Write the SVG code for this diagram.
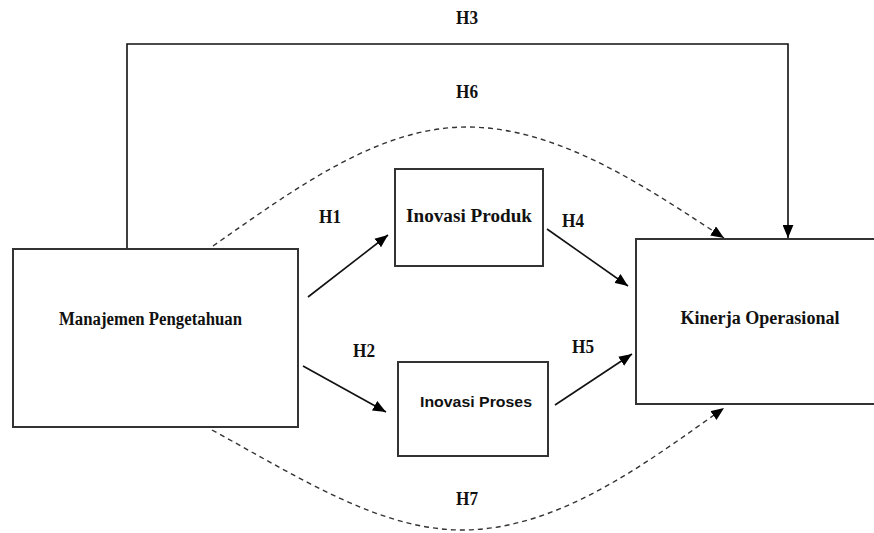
<svg xmlns="http://www.w3.org/2000/svg" width="874" height="533" viewBox="0 0 874 533">
<style>
.box{fill:#fff;stroke:#333;stroke-width:2}
.con{fill:none;stroke:#111;stroke-width:1.6}
.dash{fill:none;stroke:#333;stroke-width:1.4;stroke-dasharray:5,4}
.lbl{font-family:"Liberation Serif",serif;font-weight:bold;font-size:19px;fill:#111;text-anchor:middle}
.nt{font-family:"Liberation Serif",serif;font-weight:bold;font-size:18px;fill:#111;text-anchor:middle}
.ns{font-family:"Liberation Sans",Arial,sans-serif;font-weight:bold;font-size:15px;fill:#111;text-anchor:middle}
</style>
<defs>
<marker id="ah" viewBox="0 0 12 10" refX="12" refY="5" markerWidth="13" markerHeight="11" markerUnits="userSpaceOnUse" orient="auto">
<path d="M0,0 L12,5 L0,10 z" fill="#000"/>
</marker>
</defs>
<rect width="874" height="533" fill="#fff"/>
<g id="connectors">
<path class="con" d="M127,248 V44 H788 V238" marker-end="url(#ah)"/>
<path class="dash" d="M213,246 C300,185 380,127 467,127 C560,127 650,190 724,238" marker-end="url(#ah)"/>
<path class="dash" d="M212,430 C300,478 380,530 462,530 C560,530 650,460 724,408" marker-end="url(#ah)"/>
<line class="con" x1="308" y1="297" x2="388" y2="235" marker-end="url(#ah)"/>
<line class="con" x1="303" y1="366" x2="386" y2="412" marker-end="url(#ah)"/>
<line class="con" x1="547" y1="229" x2="628" y2="286" marker-end="url(#ah)"/>
<line class="con" x1="555" y1="405" x2="632" y2="354" marker-end="url(#ah)"/>
</g>
<g id="labels">
<text class="lbl" x="467" y="24" textLength="22" lengthAdjust="spacingAndGlyphs">H3</text>
<text class="lbl" x="467" y="98" textLength="22" lengthAdjust="spacingAndGlyphs">H6</text>
<text class="lbl" x="330" y="223" textLength="22" lengthAdjust="spacingAndGlyphs">H1</text>
<text class="lbl" x="364" y="357" textLength="22" lengthAdjust="spacingAndGlyphs">H2</text>
<text class="lbl" x="573" y="227" textLength="22" lengthAdjust="spacingAndGlyphs">H4</text>
<text class="lbl" x="583" y="353" textLength="22" lengthAdjust="spacingAndGlyphs">H5</text>
<text class="lbl" x="467" y="505" textLength="22" lengthAdjust="spacingAndGlyphs">H7</text>
</g>
<g id="manajemen">
<rect class="box" x="13" y="249" width="285" height="178"/>
<text class="nt" x="150.5" y="325" textLength="183" lengthAdjust="spacingAndGlyphs">Manajemen Pengetahuan</text>
</g>
<g id="inovasi-produk">
<rect class="box" x="395" y="169" width="148" height="97"/>
<text class="nt" x="469" y="222" textLength="126" lengthAdjust="spacingAndGlyphs">Inovasi Produk</text>
</g>
<g id="inovasi-proses">
<rect class="box" x="398" y="362" width="150" height="94"/>
<text class="ns" x="476" y="407" textLength="112" lengthAdjust="spacingAndGlyphs">Inovasi Proses</text>
</g>
<g id="kinerja">
<rect class="box" x="636" y="239" width="260" height="165"/>
<text class="nt" x="760" y="324" textLength="159" lengthAdjust="spacingAndGlyphs">Kinerja Operasional</text>
</g>
</svg>
